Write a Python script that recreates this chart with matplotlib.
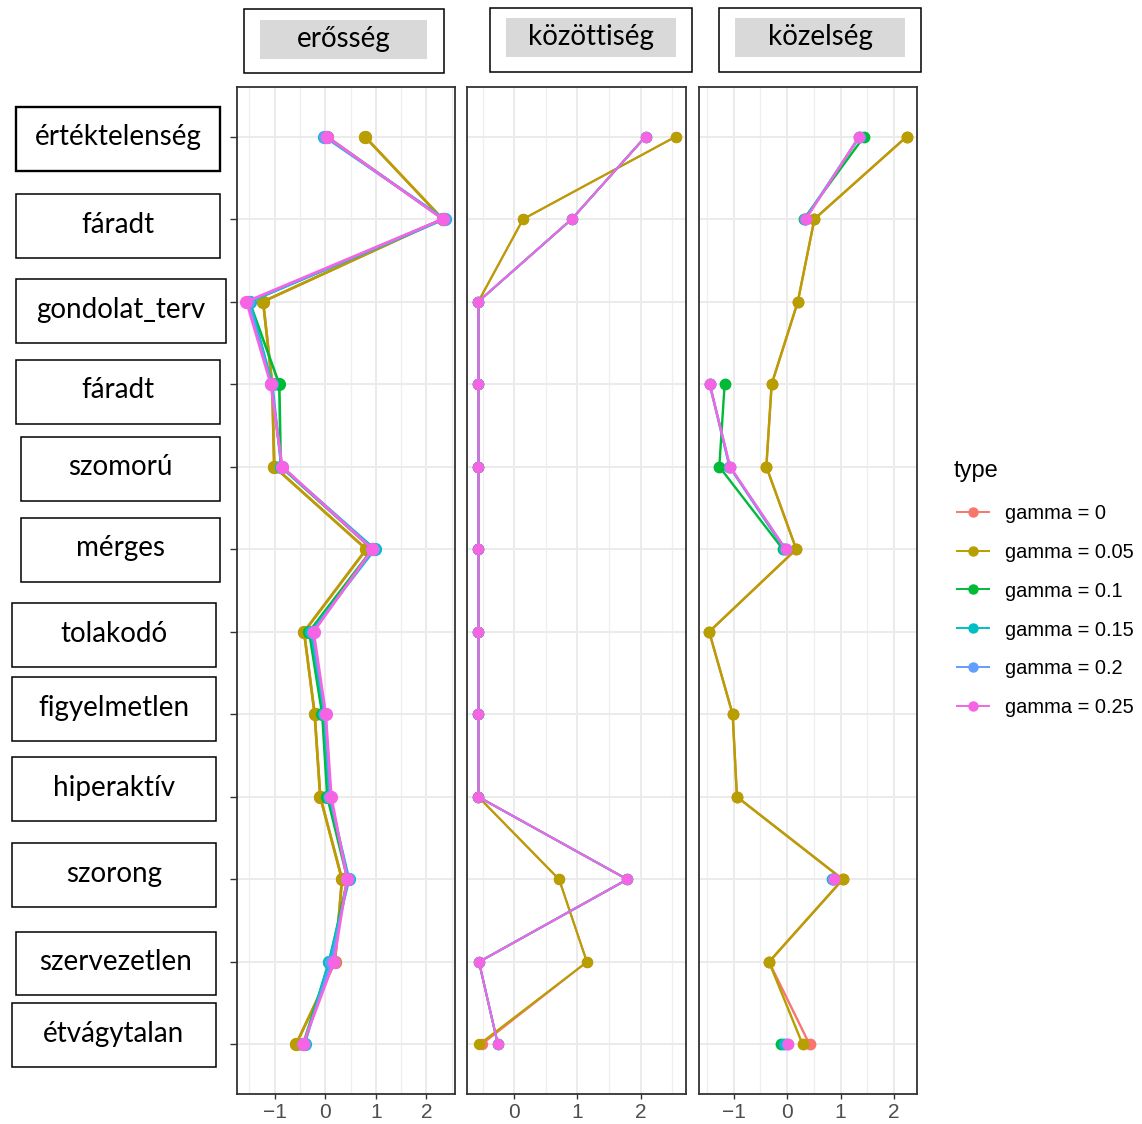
import numpy as np
import matplotlib.pyplot as plt
from matplotlib.patches import Rectangle
from matplotlib.lines import Line2D

nan = np.nan

# symptom nodes, top to bottom
symptoms = ['értéktelenség', 'fáradt', 'gondolat_terv', 'fáradt', 'szomorú', 'mérges',
            'tolakodó', 'figyelmetlen', 'hiperaktív', 'szorong', 'szervezetlen', 'étvágytalan']
measures = ['erősség', 'közöttiség', 'közelség']
gammas = ['gamma = 0', 'gamma = 0.05', 'gamma = 0.1', 'gamma = 0.15', 'gamma = 0.2', 'gamma = 0.25']
colors = ['#F8766D', '#B79F00', '#00BA38', '#00BFC4', '#619CFF', '#F564E3']

# standardized centrality, one row per gamma
erosseg = [
    [0.78, 2.32, -1.23, -1.05, -1.01, 0.81, -0.42, -0.21, -0.10, 0.33, 0.19, -0.58],
    [0.78, 2.32, -1.23, -1.05, -1.01, 0.81, -0.42, -0.21, -0.10, 0.33, 0.19, -0.58],
    [0.03, 2.33, -1.50, -0.91, -0.88, 0.93, -0.32, -0.06, 0.04, 0.44, 0.08, -0.44],
    [-0.02, 2.36, -1.49, -1.05, -0.87, 0.98, -0.28, -0.02, 0.08, 0.47, 0.07, -0.41],
    [0.00, 2.34, -1.52, -1.07, -0.86, 0.95, -0.25, 0.00, 0.10, 0.45, 0.12, -0.43],
    [0.03, 2.32, -1.56, -1.08, -0.85, 0.93, -0.23, 0.01, 0.12, 0.43, 0.17, -0.44],
]
kozottiseg = [
    [2.56, 0.14, -0.57, -0.57, -0.57, -0.57, -0.57, -0.57, -0.57, 0.71, 1.15, -0.52],
    [2.56, 0.14, -0.57, -0.57, -0.57, -0.57, -0.57, -0.57, -0.57, 0.71, 1.15, -0.56],
    [2.08, 0.91, -0.57, -0.57, -0.57, -0.57, -0.57, -0.57, -0.57, 1.79, -0.56, -0.26],
    [2.08, 0.91, -0.57, -0.57, -0.57, -0.57, -0.57, -0.57, -0.57, 1.79, -0.56, -0.26],
    [2.08, 0.91, -0.57, -0.57, -0.57, -0.57, -0.57, -0.57, -0.57, 1.79, -0.56, -0.26],
    [2.08, 0.91, -0.57, -0.57, -0.57, -0.57, -0.57, -0.57, -0.57, 1.79, -0.56, -0.26],
]
kozelseg = [
    [2.24, 0.51, 0.20, -0.29, -0.39, 0.17, -1.46, -1.02, -0.94, 1.04, -0.34, 0.42],
    [2.24, 0.51, 0.20, -0.29, -0.39, 0.17, -1.46, -1.02, -0.94, 1.04, -0.34, 0.29],
    [1.44, 0.31, nan, -1.17, -1.27, -0.08, nan, nan, nan, 0.85, nan, -0.12],
    [1.36, 0.33, nan, -1.45, -1.08, -0.05, nan, nan, nan, 0.84, nan, -0.05],
    [1.35, 0.34, nan, -1.45, -1.07, -0.03, nan, nan, nan, 0.86, nan, 0.00],
    [1.35, 0.35, nan, -1.45, -1.07, -0.03, nan, nan, nan, 0.87, nan, 0.01],
]
panel_data = [erosseg, kozottiseg, kozelseg]

W, H = 1142, 1124
fig = plt.figure(figsize=(W / 100, H / 100), dpi=100)


def fx(px):
    return px / W


def fy(py):
    return 1 - py / H


def box(x0, y0, x1, y1, **kw):
    fig.patches.append(Rectangle((fx(x0), fy(y1)), fx(x1) - fx(x0), (y1 - y0) / H,
                                 transform=fig.transFigure, **kw))


# panel layout (pixels)
panel_x = [(237.3, 455.3), (467.3, 686.0), (699.0, 917.0)]
panel_top, panel_bottom = 87, 1094
xlims = [(-1.74, 2.57), (-0.745, 2.72), (-1.65, 2.43)]
xticks = [[-1, 0, 1, 2], [0, 1, 2], [-1, 0, 1, 2]]
line_w = [1.9, 1.5, 1.7]
mark_s = [8.5, 7.2, 7.5]

y = np.arange(len(symptoms))
for i, (l, r) in enumerate(panel_x):
    ax = fig.add_axes([fx(l), fy(panel_bottom), fx(r) - fx(l), (panel_bottom - panel_top) / H])
    ax.set_ylim(len(symptoms) - 0.4, -0.6)
    ax.set_xticks(xticks[i])
    ax.set_xticks(np.arange(-1.5, 3.0, 1.0), minor=True)
    ax.set_xlim(*xlims[i])
    ax.set_yticks(y)
    ax.set_yticklabels([])
    ax.grid(which='major', color='#EBEBEB', lw=1.4)
    ax.grid(which='minor', axis='x', color='#EFEFEF', lw=0.9)
    ax.set_axisbelow(True)
    for s in ax.spines.values():
        s.set_color('#333333')
        s.set_linewidth(1.3)
    ax.tick_params(axis='x', which='major', length=3.6, width=1.0, color='#333333',
                   labelsize=15, labelcolor='#4D4D4D', pad=3)
    ax.tick_params(axis='x', which='minor', length=0)
    ax.tick_params(axis='y', length=5, width=1.0, color='#333333')
    if i > 0:
        ax.tick_params(axis='y', length=0)
    for k, vals in enumerate(panel_data[i]):
        ax.plot(vals, y, color=colors[k], lw=line_w[i], marker='o', ms=mark_s[i],
                solid_capstyle='round')
    for lab in ax.get_xticklabels():
        lab.set_family(['Liberation Sans', 'DejaVu Sans'])

# facet strips
strip_outer = [(243.7, 9.3, 444.0, 73.3), (490.0, 8.0, 692.0, 72.0), (719.0, 8.0, 921.0, 72.0)]
strip_inner = [(260.0, 20.0, 427.0, 59.0), (506.0, 18.0, 676.0, 57.0), (735.0, 18.0, 905.0, 57.0)]
for (o, g, name) in zip(strip_outer, strip_inner, measures):
    box(*o, facecolor='white', edgecolor='black', lw=1.1)
    box(*g, facecolor='#D9D9D9', edgecolor='none')
    fig.text(fx((g[0] + g[2]) / 2), fy((g[1] + g[3]) / 2), name, ha='center', va='center',
             fontsize=20, family='Lato', color='black')

# node label boxes
label_boxes = [(15.7, 106.7, 220.0, 171.0), (15.7, 194.3, 220.0, 258.3), (15.7, 279.3, 225.7, 343.3),
               (16.3, 360.0, 220.0, 424.0), (21.0, 436.7, 220.0, 501.0), (21.0, 517.7, 220.0, 581.7),
               (11.7, 603.3, 216.0, 667.3), (11.7, 677.3, 216.0, 741.0), (11.7, 757.3, 216.0, 821.0),
               (11.7, 843.3, 216.0, 907.3), (16.0, 931.7, 216.0, 995.0), (11.7, 1003.3, 216.0, 1067.3)]
for j, (b, name) in enumerate(zip(label_boxes, symptoms)):
    box(*b, facecolor='white', edgecolor='black', lw=1.7 if j == 0 else 1.1)
    fig.text(fx((b[0] + b[2]) / 2), fy((b[1] + b[3]) / 2 - 1.5), name, ha='center', va='center',
             fontsize=20, family='Lato', color='black')

# legend
fig.text(fx(954), fy(471), 'type', ha='left', va='center', fontsize=17,
         family='Liberation Sans', color='black')
for k, (lab, c) in enumerate(zip(gammas, colors)):
    ky = fy(511.7 + 38.8 * k)
    fig.add_artist(Line2D([fx(957), fx(989)], [ky, ky], color=c, lw=1.4,
                          transform=fig.transFigure))
    fig.add_artist(Line2D([fx(973)], [ky], color=c, marker='o', ms=6.5, lw=0,
                          transform=fig.transFigure))
    fig.text(fx(1005), ky, lab, ha='left', va='center_baseline', fontsize=14.4,
             family='Liberation Sans', color='black')

fig.savefig('out.png', dpi=100)
